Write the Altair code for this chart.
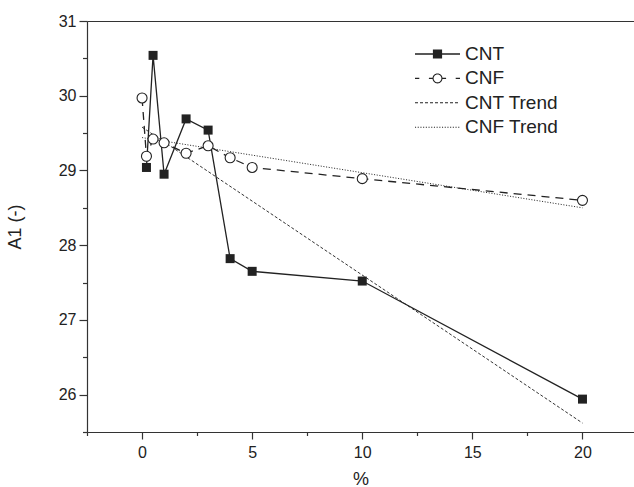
import math
import altair as alt
import pandas as pd

# ---- data ----
x_cnt = [0.2, 0.5, 1, 2, 3, 4, 5, 10, 20]
a1_cnt = [29.04, 30.54, 28.95, 29.69, 29.54, 27.82, 27.65, 27.52, 25.94]
x_cnf = [0, 0.2, 0.5, 1, 2, 3, 4, 5, 10, 20]
a1_cnf = [29.97, 29.19, 29.42, 29.37, 29.23, 29.33, 29.17, 29.04, 28.89, 28.60]
x_trend = [0, 20]
a1_cnt_trend = [29.58, 25.62]
a1_cnf_trend = [29.44, 28.50]
series = ["CNT", "CNF", "CNT Trend", "CNF Trend"]
x_ticks = [-2.5, 0, 2.5, 5, 7.5, 10, 12.5, 15, 17.5, 20]
y_ticks = [25.5, 26, 26.5, 27, 27.5, 28, 28.5, 29, 29.5, 30, 30.5, 31]

FONT = "Liberation Sans"
INK = "#222222"
AX = "#333333"

# ---- legend symbol paths (unit space, 12 px per unit), built from filled outlines ----
U = 12.0


def f(v):
    return f"{v / U:.4f}"


def bar(a, b, h=0.6):
    return f"M{f(a)},{f(-h)}L{f(b)},{f(-h)}L{f(b)},{f(h)}L{f(a)},{f(h)}Z"


def dashed(a, b, on, off, h=0.5):
    out, p = [], a
    while p < b:
        out.append(bar(p, min(p + on, b), h))
        p += on + off
    return "".join(out)


def poly(rad, reverse=False, n=28):
    pts = [(rad * math.cos(2 * math.pi * i / n), rad * math.sin(2 * math.pi * i / n)) for i in range(n)]
    if reverse:
        pts = pts[::-1]
    return "M" + "L".join(f"{f(x)},{f(y)}" for x, y in pts) + "Z"


s = 4.6
square = f"M{f(-s)},{f(-s)}L{f(s)},{f(-s)}L{f(s)},{f(s)}L{f(-s)},{f(s)}Z"
ring = poly(5.0) + poly(3.9, reverse=True)
p_cnt = bar(-22.5, 22.5, 0.65) + square
p_cnf = bar(-22.5, -18.2) + bar(-8.6, -4.9) + bar(4.9, 8.6) + bar(18.2, 22.5) + ring
p_cnt_tr = dashed(-22.5, 22.5, 3, 2)
p_cnf_tr = dashed(-22.5, 22.5, 1.1, 1.6)
paths = [p_cnt, p_cnf, p_cnt_tr, p_cnf_tr]

cnt_df = pd.DataFrame({"x": x_cnt, "a1": a1_cnt})
cnf_df = pd.DataFrame({"x": x_cnf, "a1": a1_cnf})
cnt_tr_df = pd.DataFrame({"x": x_trend, "a1": a1_cnt_trend})
cnf_tr_df = pd.DataFrame({"x": x_trend, "a1": a1_cnf_trend})
legend_df = pd.DataFrame({"series": series, "x": [0, 0, 0, 0]})

xscale = alt.Scale(domain=[-2.5, 22.34], nice=False, zero=False)
yscale = alt.Scale(domain=[25.5, 31], nice=False, zero=False)

x_axis = alt.Axis(
    values=x_ticks, format="~g", title="%",
    labelExpr="datum.value % 5 === 0 ? datum.label : ''",
    tickSize={"condition": {"test": "datum.value % 5 === 0", "value": 7}, "value": 3.5},
    labelPadding=5, titlePadding=10, grid=False,
)
y_axis = alt.Axis(
    values=y_ticks, format="~g", title="A1 (-)",
    labelExpr="datum.value % 1 === 0 ? datum.label : ''",
    tickSize={"condition": {"test": "datum.value % 1 === 0", "value": 8}, "value": 4.5},
    labelPadding=3, titlePadding=34, grid=False,
)
top_axis = alt.Axis(orient="top", ticks=False, labels=False, title=None, grid=False)

X = alt.X("x:Q", scale=xscale, axis=x_axis)
Xn = alt.X("x:Q", scale=xscale, axis=None)
Y = alt.Y("a1:Q", scale=yscale, axis=y_axis)
Yn = alt.Y("a1:Q", scale=yscale, axis=None)

cnt_line = alt.Chart(cnt_df).mark_line(color=INK, strokeWidth=1.3).encode(x=X, y=Y)
cnt_pts = alt.Chart(cnt_df).mark_point(shape="square", filled=True, color=INK, size=81, opacity=1).encode(x=Xn, y=Yn)
cnf_line = alt.Chart(cnf_df).mark_line(color=INK, strokeWidth=1.3, strokeDash=[8, 6]).encode(x=Xn, y=Yn)
cnf_pts = alt.Chart(cnf_df).mark_point(shape="circle", filled=False, fill="white", stroke=INK,
                                       strokeWidth=1.1, size=100, opacity=1).encode(x=Xn, y=Yn)
cnt_tr = alt.Chart(cnt_tr_df).mark_line(color=AX, strokeWidth=1, strokeDash=[3, 2]).encode(x=Xn, y=Yn)
cnf_tr = alt.Chart(cnf_tr_df).mark_line(color=AX, strokeWidth=1, strokeDash=[1.1, 1.6]).encode(x=Xn, y=Yn)

legend_layer = alt.Chart(legend_df).transform_filter("false").mark_point(
    filled=True, opacity=1, color=INK
).encode(
    x=alt.X("x:Q", scale=xscale, axis=top_axis),
    shape=alt.Shape(
        "series:N",
        scale=alt.Scale(domain=series, range=paths),
        legend=alt.Legend(
            title=None, orient="none", legendX=338.5, legendY=21,
            symbolSize=576, symbolStrokeWidth=0, symbolOpacity=1,
            symbolFillColor=INK,
            labelFont=FONT, labelFontSize=19, labelColor=INK, labelOffset=15.5,
            labelLimit=400, rowPadding=2.4, padding=0,
        ),
    ),
)

chart = alt.layer(
    cnt_tr, cnf_tr, cnf_line, cnt_line, cnf_pts, cnt_pts, legend_layer
).resolve_axis(x="independent", y="independent").properties(
    width=547, height=411,
    autosize=alt.AutoSizeParams(type="none"),
    padding={"left": 87, "top": 21, "right": 0, "bottom": 55},
    background="white",
).configure_view(stroke=None).configure_axis(
    domainColor=AX, domainWidth=1.2, tickColor=AX, tickWidth=1.2,
    labelFont=FONT, labelFontSize=16, labelColor=INK,
    titleFont=FONT, titleFontSize=18, titleFontWeight="normal", titleColor=INK,
)

chart.save("out.html", embed_options={"renderer": "svg", "actions": False})
